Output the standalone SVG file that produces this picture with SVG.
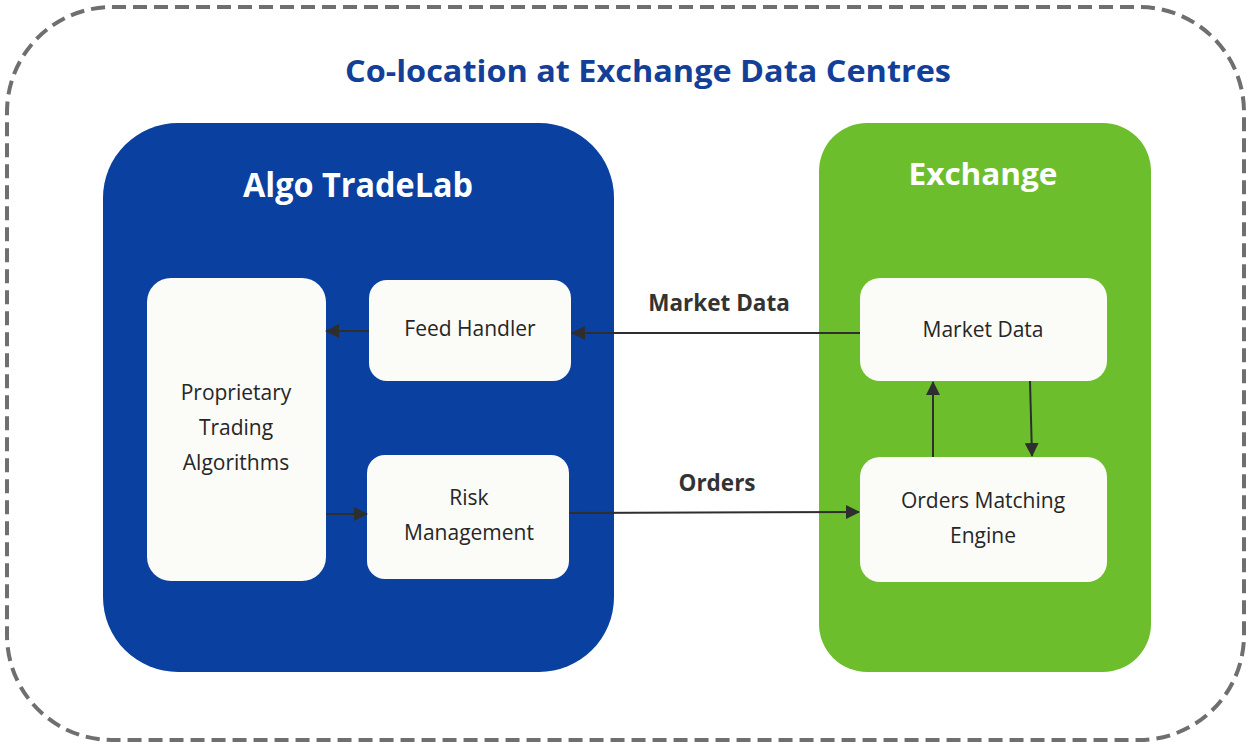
<svg xmlns="http://www.w3.org/2000/svg" width="1249" height="744" viewBox="0 0 1249 744">
<defs>
<style>
.box{fill:#fbfbf8}
.t{font-family:"Open Sans","Liberation Sans",sans-serif;font-size:21px;fill:#262626;text-anchor:middle}
.lbl{font-family:"Open Sans","Liberation Sans",sans-serif;font-size:22.5px;font-weight:bold;fill:#333;text-anchor:middle}
.hd{font-family:"Open Sans","Liberation Sans",sans-serif;font-weight:bold;fill:#fff;text-anchor:middle}
.ln{stroke:#2e2e2e;stroke-width:2;fill:none;marker-end:url(#ah)}
</style>
<marker id="ah" viewBox="0 0 14 14" refX="13" refY="7" markerWidth="14" markerHeight="14" markerUnits="userSpaceOnUse" orient="auto">
<path d="M0,0 L14,7 L0,14 Z" fill="#2e2e2e"/>
</marker>
</defs>
<rect width="1249" height="744" fill="#ffffff"/>
<rect x="7" y="7" width="1237" height="733" rx="105" ry="105" fill="none" stroke="#6f6f6f" stroke-width="4" stroke-dasharray="14 7"/>
<text x="648" y="82" font-family="'Open Sans','Liberation Sans',sans-serif" font-size="31" font-weight="bold" fill="#133f98" text-anchor="middle" textLength="606" lengthAdjust="spacingAndGlyphs">Co-location at Exchange Data Centres</text>

<g id="algo-tradelab">
<rect x="103" y="123" width="511" height="549" rx="75" ry="75" fill="#0a40a0"/>
<text class="hd" x="358" y="197" font-size="34" textLength="230" lengthAdjust="spacingAndGlyphs">Algo TradeLab</text>
</g>
<g id="exchange">
<rect x="819" y="123" width="332" height="549" rx="48" ry="48" fill="#6dbe2d"/>
<text class="hd" x="983" y="185" font-size="31" textLength="149" lengthAdjust="spacingAndGlyphs">Exchange</text>
</g>

<g id="proprietary-trading-algorithms">
<rect class="box" x="147" y="278" width="179" height="303" rx="24" ry="24"/>
<text class="t" x="236" y="400">Proprietary</text>
<text class="t" x="236" y="435">Trading</text>
<text class="t" x="236" y="470">Algorithms</text>
</g>
<g id="feed-handler">
<rect class="box" x="369" y="280" width="202" height="101" rx="18" ry="18"/>
<text class="t" x="470" y="336">Feed Handler</text>
</g>
<g id="risk-management">
<rect class="box" x="367" y="455" width="202" height="124" rx="18" ry="18"/>
<text class="t" x="469" y="505">Risk</text>
<text class="t" x="469" y="540">Management</text>
</g>
<g id="market-data">
<rect class="box" x="860" y="278" width="247" height="103" rx="20" ry="20"/>
<text class="t" x="983" y="337">Market Data</text>
</g>
<g id="orders-matching-engine">
<rect class="box" x="860" y="457" width="247" height="125" rx="20" ry="20"/>
<text class="t" x="983" y="508">Orders Matching</text>
<text class="t" x="983" y="543">Engine</text>
</g>

<g id="connectors">
<line class="ln" x1="860" y1="333" x2="572" y2="333"/>
<line class="ln" x1="369" y1="331" x2="326" y2="331"/>
<line class="ln" x1="326" y1="514" x2="367" y2="514"/>
<line class="ln" x1="569" y1="513" x2="859" y2="512"/>
<line class="ln" x1="933" y1="457" x2="933" y2="382"/>
<line class="ln" x1="1030" y1="381" x2="1032" y2="456"/>
<text class="lbl" x="719" y="311">Market Data</text>
<text class="lbl" x="717" y="491">Orders</text>
</g>
</svg>
